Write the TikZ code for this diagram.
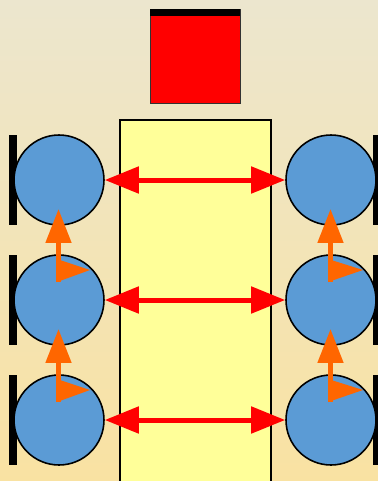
\documentclass[tikz,border=0pt]{standalone}
\usepackage{tikz}
\usetikzlibrary{arrows.meta}

\definecolor{bgtop}{RGB}{236,230,206}
\definecolor{bgbot}{RGB}{249,226,162}
\definecolor{deckyellow}{RGB}{255,255,153}
\definecolor{wheelblue}{RGB}{91,155,213}
\definecolor{pushorange}{RGB}{255,102,0}

\tikzset{
    wheel/.style={circle, draw=black, line width=0.9pt, fill=wheelblue, minimum size=1.8cm, inner sep=0pt},
    pull/.style={red, line width=0.1cm, {Triangle[length=0.68cm,width=0.52cm]}-{Triangle[length=0.68cm,width=0.52cm]}},
    push/.style={pushorange, line width=0.1cm, -{Triangle[length=0.68cm,width=0.5cm]}},
    flag/.style={fill=pushorange}
}

\begin{document}
\begin{tikzpicture}[x=0.02cm, y=-0.02cm]
    \useasboundingbox (0,0) rectangle (378,481);
    \shade[top color=bgtop, bottom color=bgbot] (0,0) rectangle (378,481);

    % centre block and the box on top
    \node[draw=black, line width=0.9pt, fill=deckyellow, minimum width=3.02cm, minimum height=7.4cm, inner sep=0pt, anchor=north west] (deck) at (119,119) {};
    \node[draw=black!80, line width=0.6pt, fill=red, minimum width=1.8cm, minimum height=1.88cm, inner sep=0pt, anchor=north west] (box) at (150,9) {};
    \fill[black] (box.north west) rectangle ++(90,7);

    \foreach \i in {1,2,3} {
        \pgfmathsetmacro{\yy}{60+120*\i}
        \fill[black] (9,\yy-45) rectangle (17,\yy+45);
        \fill[black] (373,\yy-45) rectangle (381,\yy+45);
        \node[wheel] (l\i) at (59,\yy) {};
        \node[wheel] (r\i) at (331,\yy) {};
        \draw[pull] (l\i) -- (r\i);
    }

    % upward pushes with their flags
    \foreach \i in {2,3} {
        \pgfmathsetmacro{\yy}{60+120*\i}
        \coordinate (lf\i) at (58.5,\yy-18);
        \coordinate (lt\i) at (58.5,\yy-91);
        \coordinate (rf\i) at (330.5,\yy-18);
        \coordinate (rt\i) at (330.5,\yy-91);
        \draw[push] (lf\i) -- (lt\i);
        \draw[push] (rf\i) -- (rt\i);
        \fill[flag] (lf\i) ++(-1.5,0) -- ++(0,-23) -- ++(33,11) -- cycle;
        \fill[flag] (rf\i) ++(-2.5,0) -- ++(0,-23) -- ++(35,11) -- cycle;
    }
\end{tikzpicture}
\end{document}
